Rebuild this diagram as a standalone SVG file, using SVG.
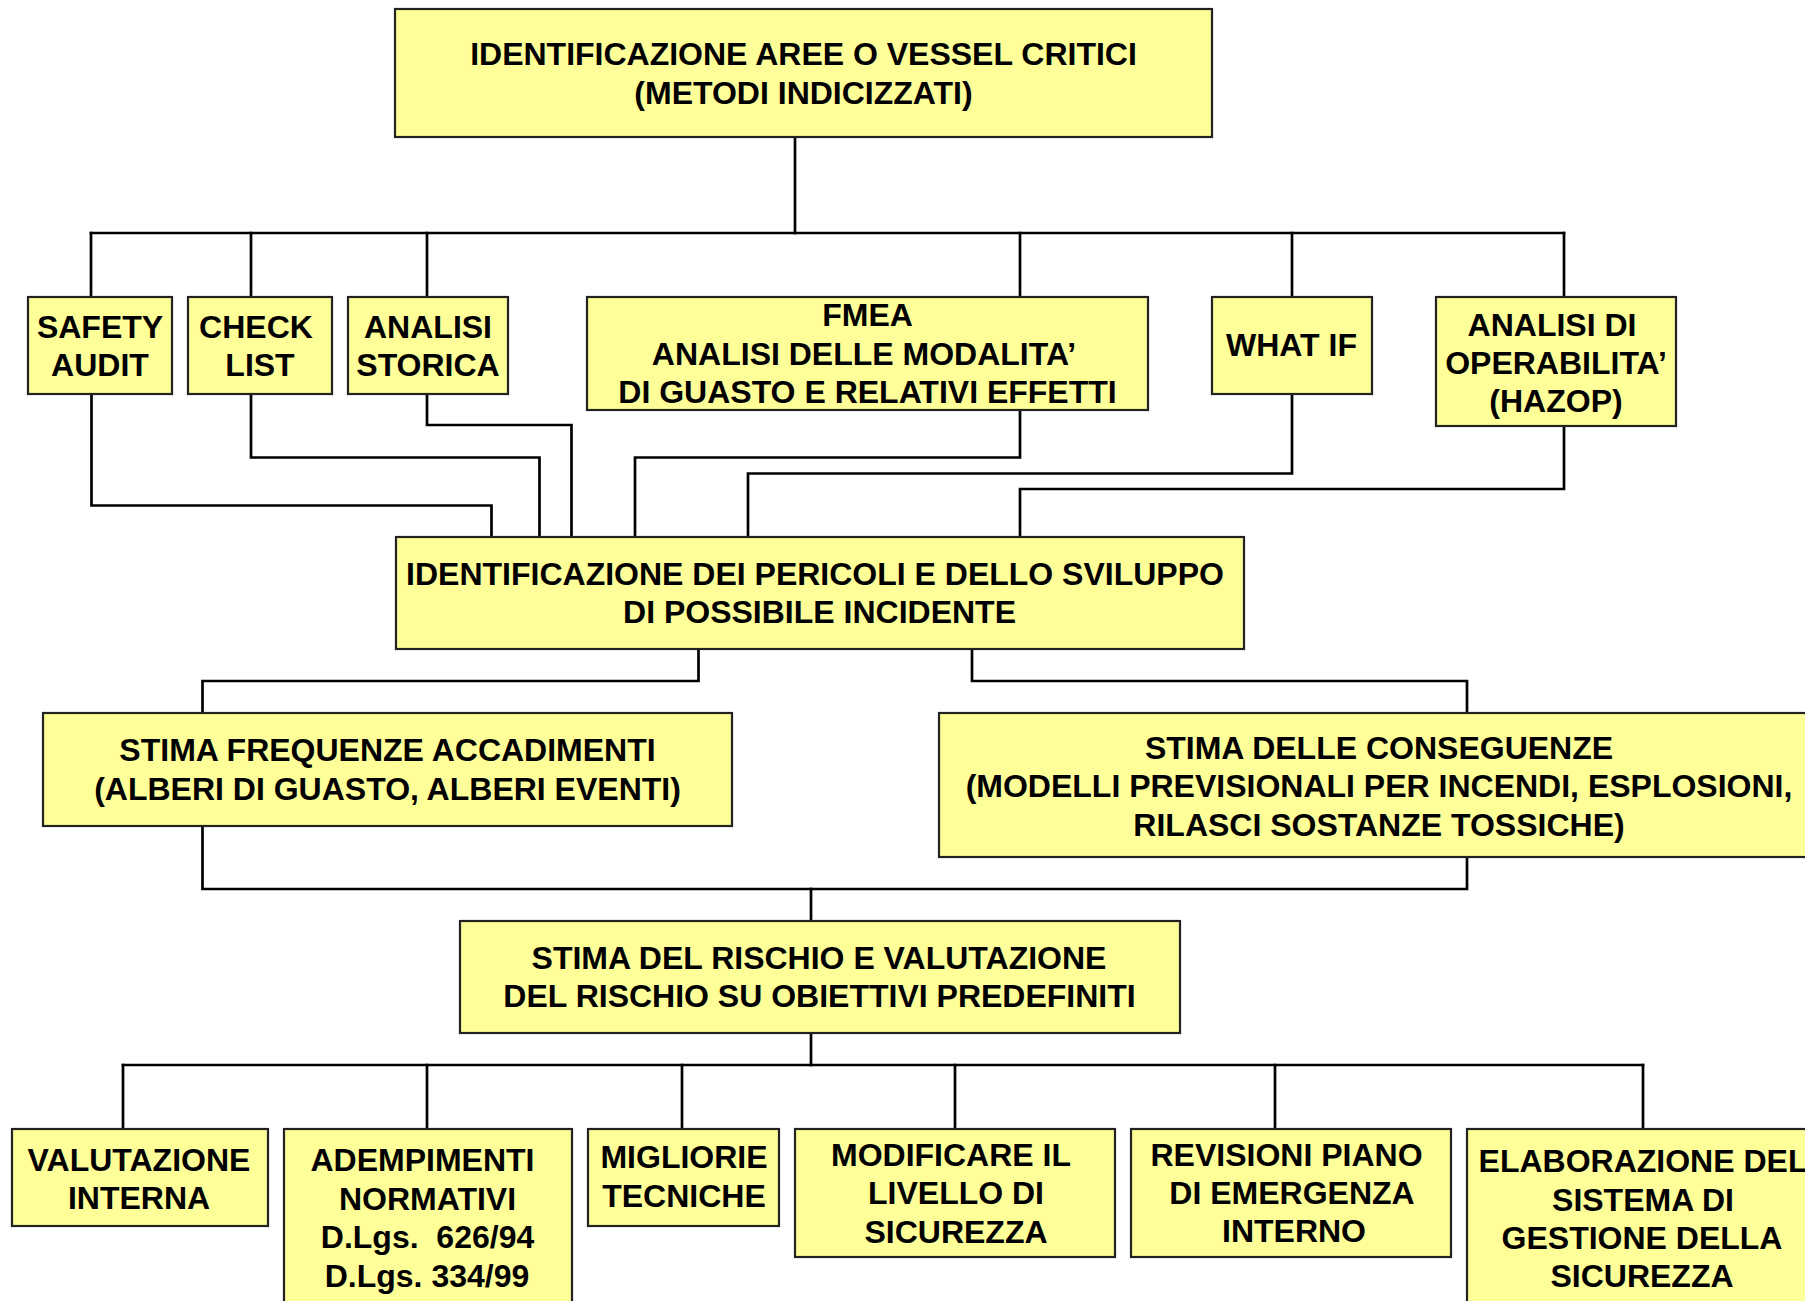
<svg xmlns="http://www.w3.org/2000/svg" width="1805" height="1301" viewBox="0 0 1805 1301">
  <style>
    .box { fill: #FFFF99; stroke: #222; stroke-width: 2.2; }
    .lbl { font-family: "Liberation Sans", Arial, sans-serif; font-weight: bold; font-size: 32px; fill: #000; text-anchor: middle; }
    .wire { fill: none; stroke: #000; stroke-width: 2.7; stroke-linejoin: miter; stroke-linecap: square; }
  </style>
  <rect width="1805" height="1301" fill="#fff"/>

  <!-- connectors -->
  <g id="connectors">
    <!-- top box to method row -->
    <path class="wire" d="M795 137 V233"/>
    <path class="wire" d="M91 233 H1564"/>
    <path class="wire" d="M91 233 V297 M251 233 V297 M427 233 V297 M1020 233 V297 M1292 233 V297 M1564 233 V297"/>
    <!-- methods to hazard identification -->
    <path class="wire" d="M91.5 394 V505.5 H491.5 V537"/>
    <path class="wire" d="M251 394 V457.5 H539.5 V537"/>
    <path class="wire" d="M427 394 V425 H571.5 V537"/>
    <path class="wire" d="M1020 410 V457.5 H635 V537"/>
    <path class="wire" d="M1292 394 V473.5 H748 V537"/>
    <path class="wire" d="M1564 426 V489 H1020 V537"/>
    <!-- hazard identification to estimates -->
    <path class="wire" d="M698.5 649 V681 H202.5 V713"/>
    <path class="wire" d="M972 649 V681 H1467 V713"/>
    <!-- estimates to risk evaluation -->
    <path class="wire" d="M202.5 826 V889 H1467 V857"/>
    <path class="wire" d="M811 889 V921"/>
    <!-- risk evaluation to outcomes -->
    <path class="wire" d="M811 1033 V1065"/>
    <path class="wire" d="M123 1065 H1643"/>
    <path class="wire" d="M123 1065 V1129 M427 1065 V1129 M682 1065 V1129 M955 1065 V1129 M1275 1065 V1129 M1643 1065 V1129"/>
  </g>

  <g id="n-aree">
    <rect class="box" x="395" y="9" width="817" height="128"/>
    <text class="lbl" x="803.5" y="65">IDENTIFICAZIONE AREE O VESSEL CRITICI</text>
    <text class="lbl" x="803.5" y="104">(METODI INDICIZZATI)</text>
  </g>

  <g id="n-safety">
    <rect class="box" x="28" y="297" width="144" height="97"/>
    <text class="lbl" x="100" y="337.5">SAFETY</text>
    <text class="lbl" x="100" y="375.5">AUDIT</text>
  </g>
  <g id="n-check">
    <rect class="box" x="188" y="297" width="144" height="97"/>
    <text class="lbl" x="256" y="337.5">CHECK</text>
    <text class="lbl" x="260" y="375.5">LIST</text>
  </g>
  <g id="n-storica">
    <rect class="box" x="348" y="297" width="160" height="97"/>
    <text class="lbl" x="428" y="337.5">ANALISI</text>
    <text class="lbl" x="428" y="375.5">STORICA</text>
  </g>
  <g id="n-fmea">
    <rect class="box" x="587" y="297" width="561" height="113"/>
    <text class="lbl" x="867.5" y="326">FMEA</text>
    <text class="lbl" x="864" y="364.5">ANALISI DELLE MODALITA’</text>
    <text class="lbl" x="867.5" y="403">DI GUASTO E RELATIVI EFFETTI</text>
  </g>
  <g id="n-whatif">
    <rect class="box" x="1212" y="297" width="160" height="97"/>
    <text class="lbl" x="1291.5" y="356">WHAT IF</text>
  </g>
  <g id="n-hazop">
    <rect class="box" x="1436" y="297" width="240" height="129"/>
    <text class="lbl" x="1552" y="336">ANALISI DI</text>
    <text class="lbl" x="1556" y="374">OPERABILITA’</text>
    <text class="lbl" x="1556" y="412">(HAZOP)</text>
  </g>

  <g id="n-pericoli">
    <rect class="box" x="396" y="537" width="848" height="112"/>
    <text class="lbl" x="815" y="585">IDENTIFICAZIONE DEI PERICOLI E DELLO SVILUPPO</text>
    <text class="lbl" x="819.5" y="623">DI POSSIBILE INCIDENTE</text>
  </g>

  <g id="n-frequenze">
    <rect class="box" x="43" y="713" width="689" height="113"/>
    <text class="lbl" x="387.5" y="761">STIMA FREQUENZE ACCADIMENTI</text>
    <text class="lbl" x="387.5" y="799.5">(ALBERI DI GUASTO, ALBERI EVENTI)</text>
  </g>
  <g id="n-conseguenze">
    <rect class="box" x="939" y="713" width="880" height="144"/>
    <text class="lbl" x="1379" y="759">STIMA DELLE CONSEGUENZE</text>
    <text class="lbl" x="1379" y="797">(MODELLI PREVISIONALI PER INCENDI, ESPLOSIONI,</text>
    <text class="lbl" x="1379" y="836">RILASCI SOSTANZE TOSSICHE)</text>
  </g>

  <g id="n-rischio">
    <rect class="box" x="460" y="921" width="720" height="112"/>
    <text class="lbl" x="819" y="969">STIMA DEL RISCHIO E VALUTAZIONE</text>
    <text class="lbl" x="819.5" y="1007">DEL RISCHIO SU OBIETTIVI PREDEFINITI</text>
  </g>

  <g id="n-interna">
    <rect class="box" x="12" y="1129" width="256" height="97"/>
    <text class="lbl" x="139" y="1170.5">VALUTAZIONE</text>
    <text class="lbl" x="139" y="1208.5">INTERNA</text>
  </g>
  <g id="n-normativi">
    <rect class="box" x="284" y="1129" width="288" height="190"/>
    <text class="lbl" x="422.5" y="1171">ADEMPIMENTI</text>
    <text class="lbl" x="427.5" y="1209.5">NORMATIVI</text>
    <text class="lbl" x="427.5" y="1248" xml:space="preserve">D.Lgs.  626/94</text>
    <text class="lbl" x="427" y="1286.5">D.Lgs. 334/99</text>
  </g>
  <g id="n-migliorie">
    <rect class="box" x="588" y="1129" width="191" height="97"/>
    <text class="lbl" x="684" y="1168">MIGLIORIE</text>
    <text class="lbl" x="684" y="1207">TECNICHE</text>
  </g>
  <g id="n-livello">
    <rect class="box" x="795" y="1129" width="320" height="128"/>
    <text class="lbl" x="951" y="1166">MODIFICARE IL</text>
    <text class="lbl" x="956" y="1204">LIVELLO DI</text>
    <text class="lbl" x="956" y="1242.5">SICUREZZA</text>
  </g>
  <g id="n-emergenza">
    <rect class="box" x="1131" y="1129" width="320" height="128"/>
    <text class="lbl" x="1286.5" y="1165.5">REVISIONI PIANO</text>
    <text class="lbl" x="1292" y="1203.5">DI EMERGENZA</text>
    <text class="lbl" x="1294" y="1242">INTERNO</text>
  </g>
  <g id="n-gestione">
    <rect class="box" x="1467" y="1129" width="352" height="190"/>
    <text class="lbl" x="1643" y="1172">ELABORAZIONE DEL</text>
    <text class="lbl" x="1643" y="1211">SISTEMA DI</text>
    <text class="lbl" x="1642" y="1249">GESTIONE DELLA</text>
    <text class="lbl" x="1642" y="1287">SICUREZZA</text>
  </g>
</svg>
